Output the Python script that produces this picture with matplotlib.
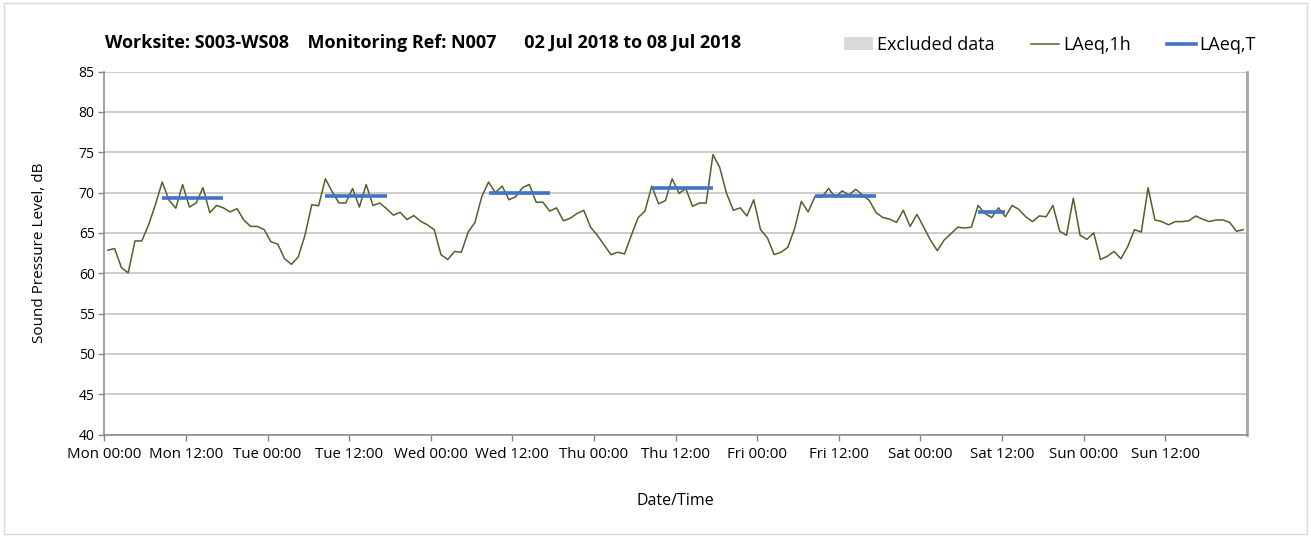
import matplotlib
matplotlib.use("Agg")
import matplotlib.pyplot as plt
from matplotlib.patches import Patch, Rectangle
from matplotlib.lines import Line2D
import numpy as np

# ---- Data ----
# Hourly LAeq,1h values (dB), Mon 00:00 .. Sun 23:00 (plotted at hour centre)
laeq_1h = [
    62.85, 63.06, 60.7, 60.04, 64.0, 64.0, 66.0, 68.5, 71.3, 69.05, 68.06, 71.0,
    68.2, 68.7, 70.6, 67.5, 68.4, 68.1, 67.6, 68.0, 66.6, 65.8, 65.8, 65.4,
    63.9, 63.6, 61.8, 61.1, 62.0, 64.7, 68.5, 68.35, 71.7, 70.1, 68.7, 68.7,
    70.5, 68.2, 71.0, 68.4, 68.7, 68.0, 67.2, 67.55, 66.65, 67.15, 66.45, 66.0,
    65.4, 62.3, 61.7, 62.7, 62.6, 65.1, 66.3, 69.5, 71.3, 70.0, 70.8, 69.1,
    69.5, 70.6, 71.0, 68.8, 68.8, 67.7, 68.1, 66.5, 66.8, 67.4, 67.8, 65.7,
    64.7, 63.5, 62.3, 62.6, 62.4, 64.7, 66.9, 67.7, 70.8, 68.6, 69.0, 71.7,
    69.9, 70.5, 68.3, 68.7, 68.7, 74.7, 73.1, 69.9, 67.8, 68.1, 67.1, 69.1,
    65.4, 64.4, 62.3, 62.6, 63.2, 65.5, 68.9, 67.6, 69.5, 69.4, 70.5, 69.4,
    70.2, 69.7, 70.4, 69.7, 69.0, 67.5, 66.9, 66.7, 66.3, 67.8, 65.8, 67.3,
    65.7, 64.1, 62.8, 64.1, 64.9, 65.7, 65.6, 65.7, 68.4, 67.4, 66.9, 68.1,
    67.0, 68.4, 67.9, 67.0, 66.4, 67.1, 67.0, 68.4, 65.2, 64.7, 69.3, 64.7,
    64.2, 65.0, 61.7, 62.1, 62.7, 61.8, 63.3, 65.4, 65.1, 70.6, 66.6, 66.4,
    66.0, 66.4, 66.4, 66.5, 67.1, 66.7, 66.4, 66.6, 66.6, 66.3, 65.2, 65.4,
]
# LAeq,T periods: (day index, first hour, last hour, value)
period_day = [0, 1, 2, 3, 4, 5]
period_first_hour = [8, 8, 8, 8, 8, 8]
period_last_hour = [17, 17, 17, 17, 17, 12]
period_value = [69.3, 69.6, 69.9, 70.6, 69.55, 67.6]

tick_labels = ["Mon 00:00", "Mon 12:00", "Tue 00:00", "Tue 12:00", "Wed 00:00",
               "Wed 12:00", "Thu 00:00", "Thu 12:00", "Fri 00:00", "Fri 12:00",
               "Sat 00:00", "Sat 12:00", "Sun 00:00", "Sun 12:00"]

title = "Worksite: S003-WS08    Monitoring Ref: N007      02 Jul 2018 to 08 Jul 2018"

# ---- Plot ----
plt.rcParams['font.family'] = ['Open Sans', 'DejaVu Sans']
W, H = 1311, 537
fig = plt.figure(figsize=(W / 100, H / 100), dpi=100)
ax = fig.add_axes([104.4 / W, 1 - 434.6 / H, (1246.7 - 104.4) / W, (434.6 - 71.5) / H])

hours = np.arange(len(laeq_1h)) + 0.5
green = "#4F6228"
blue = "#4472C4"

ax.plot(hours, laeq_1h, color=green, lw=1.1, zorder=3)

for d, h0, h1, v in zip(period_day, period_first_hour, period_last_hour, period_value):
    xs = [d * 24 + h0 + 0.5, d * 24 + h1 + 0.5]
    ax.plot(xs, [v, v], color=blue, lw=2.6, solid_capstyle='butt', zorder=4)

ax.set_xlim(0, 168)
ax.set_ylim(40, 85)
ax.set_yticks(np.arange(40, 86, 5))
ax.set_xticks(np.arange(0, 168, 12))
ax.set_xticklabels(tick_labels)
ax.set_xticks(np.arange(0, 169, 24), minor=True)

ax.grid(axis='y', which='major', color='#BFBFBF', lw=1.1)
ax.grid(axis='x', which='minor', color='#D9D9D9', lw=1.1)
ax.set_axisbelow(True)

ax.spines['top'].set_visible(False)
for s in ['left', 'bottom']:
    ax.spines[s].set_color('#868686')
    ax.spines[s].set_linewidth(1.1)
ax.spines['right'].set_color('#A6A6A6')
ax.spines['right'].set_linewidth(2)

ax.tick_params(axis='both', which='major', colors='#868686',
               labelcolor='#000000', length=4, width=1)
ax.tick_params(axis='x', which='major', labelsize=10.8, pad=5)
ax.tick_params(axis='y', which='major', labelsize=10, pad=3)
ax.tick_params(axis='x', which='minor', length=0)

ax.set_ylabel("Sound Pressure Level, dB", fontsize=11)
ax.set_xlabel("Date/Time", fontsize=11.5)
ax.yaxis.set_label_coords((47 - 104.4) / 1142.3, 0.5)
ax.xaxis.set_label_coords(0.5, (434.6 - 493) / 363.1)

fig.text(105 / W, 1 - 43 / H, title, fontsize=13, fontweight='bold',
         ha='left', va='center')

handles = [Patch(facecolor='#D9D9D9', edgecolor='none'),
           Line2D([], [], color=green, lw=1.1),
           Line2D([], [], color=blue, lw=2.6)]
fig.legend(handles, ["Excluded data", "LAeq,1h", "LAeq,T"], ncol=3,
           loc='center right', bbox_to_anchor=(1272 / W, 1 - 45 / H),
           frameon=False, fontsize=13, handlelength=1.6, handletextpad=0.2,
           columnspacing=2.0)

fig.patches.append(Rectangle((4 / W, 3 / H), (1307 - 4) / W, (534 - 3) / H,
                             transform=fig.transFigure, fill=False,
                             edgecolor='#D9D9D9', lw=1))

fig.savefig("out.png", dpi=100)
